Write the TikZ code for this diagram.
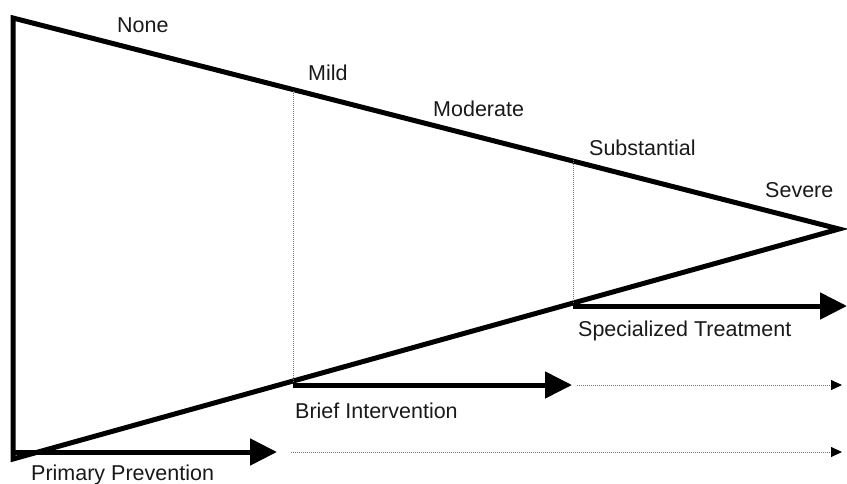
\documentclass[tikz,border=0pt]{standalone}
\usepackage{fontspec}
\setmainfont{Liberation Sans}
\usetikzlibrary{arrows.meta}

\begin{document}
\begin{tikzpicture}[x=1pt,y=-1pt,
  edge/.style={line width=5pt,line join=miter},
  bar/.style={line width=5pt,-{Triangle[length=27pt,width=26pt]}},
  hint/.style={black!55,line width=0.9pt,dash pattern=on 1pt off 1pt},
  hintarrow/.style={hint,-{Triangle[length=11pt,width=10pt,color=black]}},
  lbl/.style={anchor=base west,inner sep=0pt,text=black!90,
    font=\fontsize{21.5}{24}\selectfont}]
\useasboundingbox (0,0) rectangle (847,483);
\coordinate (top) at (13,18);
\coordinate (low) at (13,459);
\coordinate (apex) at (839,229);
\coordinate (mildtop) at (293,91);
\coordinate (substtop) at (573,160);
\coordinate (primstart) at (14,452);
\coordinate (primend) at (277,452);
\coordinate (briefstart) at (293,385);
\coordinate (briefend) at (572,385);
\coordinate (specstart) at (573,306);
\coordinate (specend) at (847,306);
\coordinate (primdot) at (291,452);
\coordinate (primdotend) at (842,452);
\coordinate (briefdot) at (577,385);
\coordinate (briefdotend) at (842,385);
\draw[edge] (low) -- (top) -- (apex) -- cycle;
\draw[hint] (mildtop) -- (briefstart);
\draw[hint] (substtop) -- (specstart);
\draw[bar] (primstart) -- (primend);
\draw[bar] (briefstart) -- (briefend);
\draw[bar] (specstart) -- (specend);
\draw[hintarrow] (primdot) -- (primdotend);
\draw[hintarrow] (briefdot) -- (briefdotend);
\node[lbl] (none) at (117,32) {None};
\node[lbl] (mild) at (308,80) {Mild};
\node[lbl] (moderate) at (433,116) {Moderate};
\node[lbl] (substantial) at (589,155) {Substantial};
\node[lbl] (severe) at (765,197) {Severe};
\node[lbl] (spec) at (578,336) {Specialized Treatment};
\node[lbl] (brief) at (295,418) {Brief Intervention};
\node[lbl] (prim) at (31,480) {Primary Prevention};
\end{tikzpicture}
\end{document}
